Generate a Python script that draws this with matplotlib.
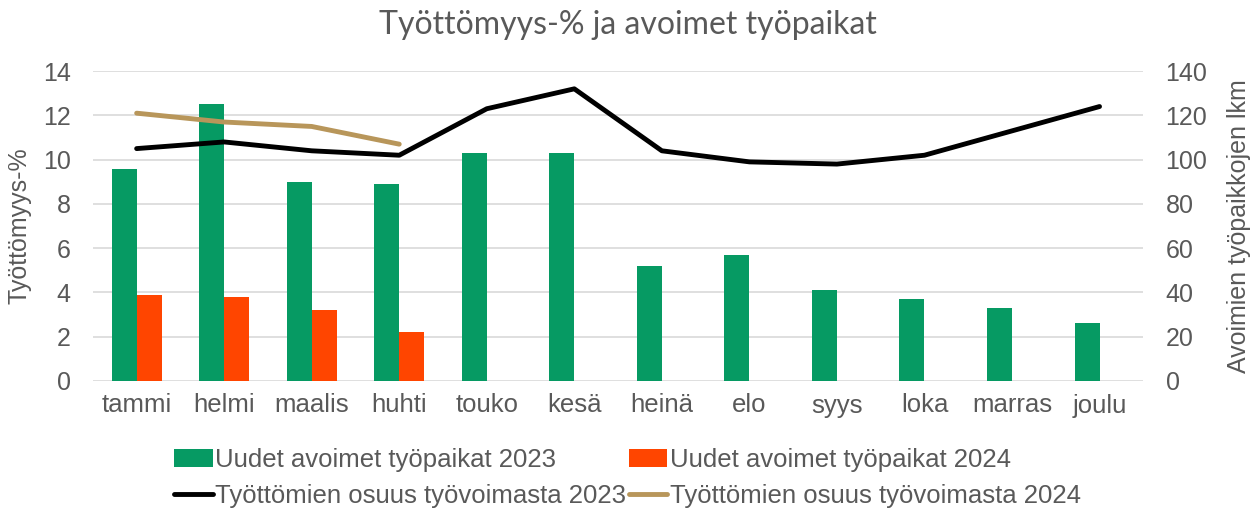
import matplotlib.pyplot as plt
import numpy as np

kuukaudet = ['tammi', 'helmi', 'maalis', 'huhti', 'touko', 'kesä',
             'heinä', 'elo', 'syys', 'loka', 'marras', 'joulu']
avoimet_2023 = [96, 125, 90, 89, 103, 103, 52, 57, 41, 37, 33, 26]
avoimet_2024 = [39, 38, 32, 22]
tyottomat_2023 = [10.5, 10.8, 10.4, 10.2, 12.3, 13.2, 10.4, 9.9, 9.8, 10.2, 11.3, 12.4]
tyottomat_2024 = [12.1, 11.7, 11.5, 10.7]

plt.rcParams['font.family'] = ['Liberation Sans', 'DejaVu Sans']
harmaa = '#595959'

fig = plt.figure(figsize=(12.55, 5.08), dpi=100)
ax = fig.add_axes([0.074, 0.25, 0.837, 0.61])   # pylväät, oikea asteikko
ax2 = ax.twinx()                                  # viivat, vasen asteikko

x = np.arange(len(kuukaudet))
w = 0.286
b1 = ax.bar(x - w / 2, avoimet_2023, w, color='#069A63', zorder=2)
b2 = ax.bar(x[:len(avoimet_2024)] + w / 2, avoimet_2024, w, color='#FF4500', zorder=2)
l1, = ax2.plot(x, tyottomat_2023, color='black', lw=3.5, solid_capstyle='round')
l2, = ax2.plot(x[:len(tyottomat_2024)], tyottomat_2024, color='#B8965A', lw=3.5,
               solid_capstyle='round')

ax.set_ylim(0, 140)
ax.set_yticks(range(0, 141, 20))
ax2.set_ylim(0, 14)
ax2.set_yticks(range(0, 15, 2))
ax.set_xlim(-0.5, len(kuukaudet) - 0.5)
ax.set_xticks(x, kuukaudet)

ax.yaxis.tick_right()
ax.yaxis.set_label_position('right')
ax2.yaxis.tick_left()
ax2.yaxis.set_label_position('left')

ax.grid(axis='y', color='#d9d9d9', lw=1.2, zorder=0)
for a in (ax, ax2):
    for s in a.spines.values():
        s.set_visible(False)
    a.tick_params(length=0, labelsize=18, colors=harmaa)
ax.tick_params(axis='y', pad=16)
ax2.tick_params(axis='y', pad=16)
ax.tick_params(axis='x', pad=9, labelsize=18.5)

ax2.set_ylabel('Työttömyys-%', fontsize=18, color=harmaa, labelpad=8)
ax.set_ylabel('Avoimien työpaikkojen lkm', fontsize=18, color=harmaa, labelpad=14)

fig.text(0.5, 0.95, 'Työttömyys-% ja avoimet työpaikat', fontsize=23, color=harmaa,
         family=['Lato', 'DejaVu Sans'], ha='center', va='center')

fig.legend([b1, l1, b2, l2],
           ['Uudet avoimet työpaikat 2023', 'Työttömien osuus työvoimasta 2023',
            'Uudet avoimet työpaikat 2024', 'Työttömien osuus työvoimasta 2024'],
           ncol=2, loc='lower center', bbox_to_anchor=(0.5, -0.045), frameon=False,
           fontsize=18.5, labelcolor=harmaa, handlelength=1.5, handletextpad=0.1,
           columnspacing=0.1, labelspacing=0.45)

fig.savefig('out.png', dpi=100)
